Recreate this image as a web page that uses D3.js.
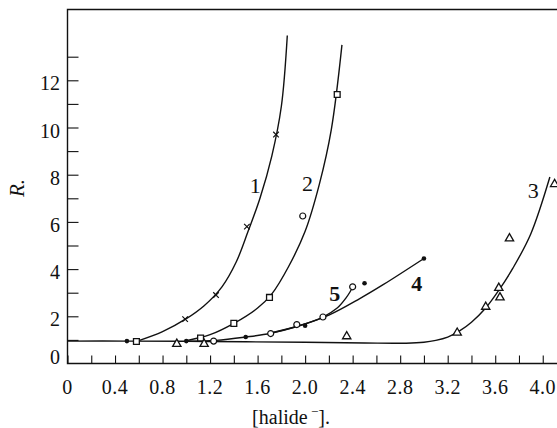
<!DOCTYPE html>
<html>
<head>
<meta charset="utf-8">
<script src="https://cdn.jsdelivr.net/npm/d3@7"></script>
<style>
  body { margin: 0; background: #fff; }
  text { font-family: "Liberation Serif", "DejaVu Serif", serif; fill: #111; }
</style>
</head>
<body>
<script>
// curves [halide, R]
var baseline3 = [[0, 0.95], [0.5, 0.95], [1.0, 0.94], [1.5, 0.92], [2.0, 0.9], [2.5, 0.87], [2.85, 0.86],
                 [3.0, 0.9], [3.1, 0.98], [3.2, 1.12], [3.3, 1.38], [3.4, 1.75], [3.52, 2.35], [3.63, 3.1],
                 [3.75, 4.05], [3.9, 5.5], [4.06, 7.9]];
var line1 = [[0.6, 0.97], [0.8, 1.35], [1.0, 1.9], [1.15, 2.45], [1.3, 3.25], [1.42, 4.3], [1.52, 5.6],
             [1.62, 7.0], [1.72, 8.8], [1.8, 10.9], [1.85, 13.9]];
var line2 = [[1.0, 0.97], [1.2, 1.22], [1.4, 1.7], [1.6, 2.35], [1.72, 2.95], [1.86, 4.1], [2.0, 5.6],
             [2.12, 7.6], [2.22, 9.9], [2.31, 13.5]];
var line4 = [[1.0, 0.95], [1.25, 0.98], [1.5, 1.12], [1.71, 1.28], [1.95, 1.6], [2.2, 2.05], [2.46, 2.75],
             [2.66, 3.35], [3.0, 4.45]];
var line5 = [[1.7, 1.28], [1.95, 1.6], [2.15, 1.97], [2.27, 2.35], [2.34, 2.75], [2.38, 3.05], [2.4, 3.25]];

// measured points
var crosses = [[0.99, 1.88], [1.25, 2.9], [1.51, 5.8], [1.755, 9.7]];
var squares = [[0.58, 0.93], [1.12, 1.08], [1.4, 1.7], [1.7, 2.8], [2.27, 11.4]];
var circles = [[1.23, 0.95], [1.71, 1.27], [1.93, 1.65], [2.15, 1.97], [2.4, 3.25], [1.98, 6.25]];
var dots = [[0.5, 0.95], [1.0, 0.95], [1.5, 1.12], [2.0, 1.6], [2.5, 3.4], [3.0, 4.45]];
var triangles = [[0.92, 0.83], [1.15, 0.83], [2.35, 1.15], [3.28, 1.3], [3.52, 2.4], [3.63, 3.2],
                 [3.64, 2.8], [3.72, 5.3], [4.1, 7.6]];

var curveLabels = [
  { text: "1", x: 1.58, y: 7.56, bold: false },
  { text: "2", x: 2.02, y: 7.65, bold: false },
  { text: "3", x: 3.92, y: 7.35, bold: false },
  { text: "4", x: 2.94, y: 3.41, bold: true },
  { text: "5", x: 2.25, y: 2.98, bold: true }
];

var xTicks = d3.range(0, 4.11, 0.2);
var xLabels = [0, 0.4, 0.8, 1.2, 1.6, 2.0, 2.4, 2.8, 3.2, 3.6, 4.0];
var yTicks = d3.range(1, 14, 1);
var yLabels = [0, 2, 4, 6, 8, 10, 12];

var W = 557, H = 428;
var ink = "#111";

var x = d3.scaleLinear().domain([0, 4.12]).range([67.5, 557]);
var y = d3.scaleLinear().domain([0, 15]).range([363.5, 9.5]);

var svg = d3.select("body").append("svg")
    .attr("width", W)
    .attr("height", H);

// frame: left, top, bottom
svg.append("path")
    .attr("d", "M" + x(4.12) + "," + y(15) + "H" + x(0) + "V" + y(0) + "H" + x(4.12))
    .attr("fill", "none")
    .attr("stroke", ink)
    .attr("stroke-width", 1.4);

// x ticks point up
var xAxis = d3.axisBottom(x)
    .tickValues(xTicks)
    .tickSize(-8)
    .tickFormat("");
var gx = svg.append("g")
    .attr("transform", "translate(0," + y(0) + ")")
    .call(xAxis);
gx.select(".domain").remove();
gx.selectAll("line").attr("stroke", ink).attr("stroke-width", 1.1);

svg.selectAll(".xlab")
    .data(xLabels)
    .enter().append("text")
    .attr("class", "xlab")
    .attr("x", function (d) { return x(d); })
    .attr("y", 394)
    .attr("text-anchor", "middle")
    .style("font-size", "20px")
    .style("letter-spacing", "0.5px")
    .text(function (d) { return d === 0 ? "0" : d.toFixed(1); });

// y ticks point right
var yAxis = d3.axisLeft(y)
    .tickValues(yTicks)
    .tickSize(-11)
    .tickFormat("");
var gy = svg.append("g")
    .attr("transform", "translate(" + x(0) + ",0)")
    .call(yAxis);
gy.select(".domain").remove();
gy.selectAll("line").attr("stroke", ink).attr("stroke-width", 1.1);

svg.selectAll(".ylab")
    .data(yLabels)
    .enter().append("text")
    .attr("class", "ylab")
    .attr("x", 60)
    .attr("y", function (d) { return d === 0 ? y(0) - 7 : y(d) + 3; })
    .attr("dy", "0.35em")
    .attr("text-anchor", "end")
    .style("font-size", "20px")
    .text(function (d) { return d; });

// axis titles
svg.append("text")
    .attr("transform", "translate(24,188) rotate(-90)")
    .attr("text-anchor", "middle")
    .style("font-size", "21px")
    .style("font-style", "italic")
    .text("R.");

var xt = svg.append("text")
    .attr("x", 291)
    .attr("y", 424)
    .attr("text-anchor", "middle")
    .style("font-size", "20px");
xt.append("tspan").text("[halide");
xt.append("tspan").attr("dy", -8).style("font-size", "13px").text(" −");
xt.append("tspan").attr("dy", 8).text("].");

// curves
var line = d3.line()
    .x(function (d) { return x(d[0]); })
    .y(function (d) { return y(d[1]); })
    .curve(d3.curveCatmullRom.alpha(0.5));

[baseline3, line1, line2, line4, line5].forEach(function (c) {
  svg.append("path")
      .datum(c)
      .attr("fill", "none")
      .attr("stroke", ink)
      .attr("stroke-width", 1.4)
      .attr("d", line);
});

// markers
function place(d) { return "translate(" + x(d[0]) + "," + y(d[1]) + ")"; }

svg.selectAll(".sq").data(squares).enter().append("path")
    .attr("transform", place)
    .attr("d", d3.symbol(d3.symbolSquare, 34))
    .attr("fill", "#fff").attr("stroke", ink).attr("stroke-width", 1.3);

svg.selectAll(".ci").data(circles).enter().append("circle")
    .attr("transform", place)
    .attr("r", 3)
    .attr("fill", "#fff").attr("stroke", ink).attr("stroke-width", 1.2);

svg.selectAll(".tr").data(triangles).enter().append("path")
    .attr("transform", place)
    .attr("d", d3.symbol(d3.symbolTriangle, 30))
    .attr("fill", "#fff").attr("stroke", ink).attr("stroke-width", 1.3);

svg.selectAll(".cr").data(crosses).enter().append("path")
    .attr("transform", place)
    .attr("d", d3.symbol(d3.symbolX, 22))
    .attr("fill", "none").attr("stroke", ink).attr("stroke-width", 1.2);

svg.selectAll(".dt").data(dots).enter().append("circle")
    .attr("transform", place)
    .attr("r", 2.3)
    .attr("fill", ink);

// curve numbers
svg.selectAll(".cl").data(curveLabels).enter().append("text")
    .attr("x", function (d) { return x(d.x); })
    .attr("y", function (d) { return y(d.y); })
    .attr("dy", "0.35em")
    .attr("text-anchor", "middle")
    .style("font-size", "22px")
    .style("font-weight", function (d) { return d.bold ? "bold" : "normal"; })
    .text(function (d) { return d.text; });
</script>
</body>
</html>
